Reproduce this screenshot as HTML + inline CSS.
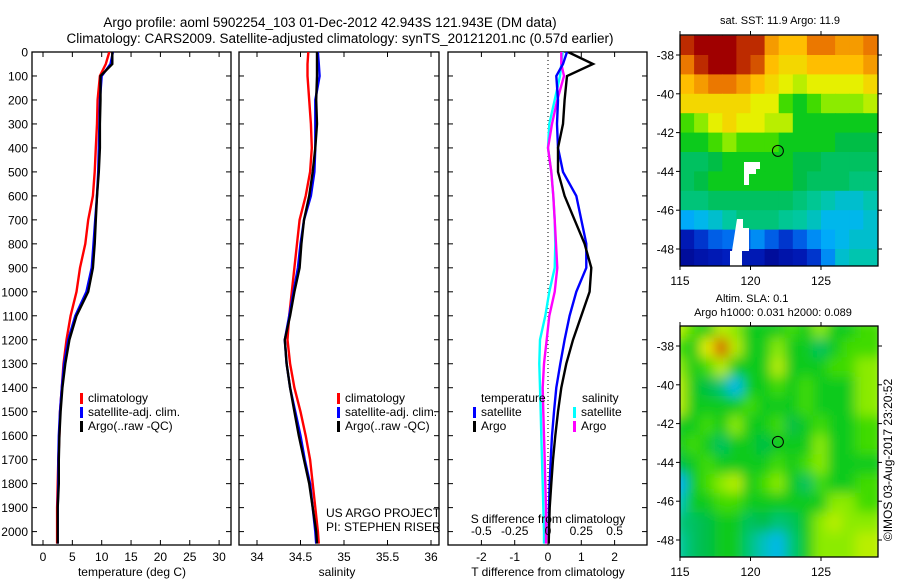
<!DOCTYPE html>
<html><head><meta charset="utf-8"><style>
body{margin:0;background:#fff;}
svg{display:block;font-family:"Liberation Sans",sans-serif;}
text{fill:#000;}
</style></head><body>
<svg id="s" width="900" height="580" xmlns="http://www.w3.org/2000/svg">
<defs>
<clipPath id="c1"><rect x="32" y="52" width="199" height="493"/></clipPath>
<clipPath id="c2"><rect x="239" y="52" width="200" height="493"/></clipPath>
<clipPath id="c3"><rect x="448" y="52" width="199" height="493"/></clipPath>
<clipPath id="cm1"><rect x="680" y="35" width="198" height="231"/></clipPath>
<clipPath id="cm2"><rect x="680" y="326" width="198" height="231"/></clipPath>
<filter id="bl" x="-5%" y="-5%" width="110%" height="110%"><feGaussianBlur stdDeviation="6"/></filter>
</defs>
<text x="330" y="27" font-size="13.5" text-anchor="middle">Argo profile: aoml 5902254_103 01-Dec-2012 42.943S 121.943E (DM data)</text>
<text x="340" y="43" font-size="13.5" text-anchor="middle">Climatology: CARS2009. Satellite-adjusted climatology: synTS_20121201.nc (0.57d earlier)</text>
<g id="g"></g>
</svg>
<script>
// ---- data ----
const depths=[0,50,100,200,300,400,500,600,700,800,900,1000,1100,1200,1300,1400,1500,1600,1700,1800,1900,2000,2050];
const tempArgo=[11.8,11.8,9.8,9.8,9.7,9.7,9.5,9.2,9.0,8.8,8.5,7.7,5.7,4.5,3.8,3.3,3.0,2.8,2.7,2.7,2.5,2.5,2.5];
const tempClim=[11.3,10.7,9.7,9.3,9.2,9.0,8.8,8.5,7.7,7.2,6.3,5.7,4.7,4.0,3.5,3.2,2.9,2.8,2.6,2.5,2.4,2.4,2.4];
const tempSat=[11.9,11.5,10.0,9.7,9.6,9.5,9.4,9.2,8.9,8.6,8.3,7.4,5.5,4.3,3.6,3.2,2.9,2.7,2.6,2.6,2.5,2.5,2.5];
const salArgo=[34.69,34.69,34.69,34.68,34.69,34.67,34.64,34.60,34.54,34.51,34.49,34.43,34.38,34.32,34.34,34.38,34.43,34.48,34.54,34.60,34.64,34.68,34.69];
const salClim=[34.59,34.58,34.58,34.60,34.62,34.63,34.61,34.56,34.49,34.46,34.43,34.40,34.37,34.35,34.38,34.43,34.50,34.56,34.61,34.64,34.67,34.70,34.71];
const salSat=[34.70,34.71,34.72,34.67,34.67,34.67,34.66,34.62,34.54,34.50,34.47,34.42,34.37,34.32,34.34,34.38,34.44,34.50,34.55,34.61,34.64,34.67,34.68];
const dTArgo=[0.6,1.35,0.57,0.5,0.45,0.3,0.3,0.5,0.8,1.1,1.3,1.25,1.0,0.75,0.55,0.4,0.3,0.22,0.15,0.1,0.05,0.03,0.02];
const dTSat=[0.57,0.45,0.25,0.3,0.27,0.3,0.45,0.85,1.0,1.15,1.15,0.85,0.65,0.5,0.37,0.25,0.18,0.12,0.08,0.05,0.03,0.02,0.02];
const dSArgo=[0.1,0.1,0.12,0.07,0.03,0.0,0.025,0.04,0.05,0.06,0.07,0.05,0.01,-0.01,-0.03,-0.04,-0.035,-0.03,-0.025,-0.02,-0.015,-0.015,-0.015];
const dSSat=[0.11,0.1,0.09,0.05,0.01,0.0,0.025,0.04,0.05,0.055,0.05,0.01,-0.02,-0.06,-0.065,-0.06,-0.055,-0.05,-0.045,-0.04,-0.035,-0.03,-0.03];
const depthTicks=[0,100,200,300,400,500,600,700,800,900,1000,1100,1200,1300,1400,1500,1600,1700,1800,1900,2000];
const tTicks=[0,5,10,15,20,25,30];
const sTicks=[34,34.5,35,35.5,36];
const dtTicks=[-2,-1,0,1,2];
const dsTicks=[-0.5,-0.25,0,0.25,0.5];
const dsTickLabels=["-0.5","-0.25","0","0.25","0.5"];
const lonTicks=[115,120,125];
const latTicks=[-38,-40,-42,-44,-46,-48];
const sstGrid=[
[0.95,1,1,1,0.95,0.95,0.8,0.75,0.75,0.85,0.85,0.8,0.8,0.85],
[0.85,0.95,1,1,0.95,0.9,0.75,0.7,0.7,0.75,0.75,0.75,0.75,0.8],
[0.75,0.8,0.85,0.85,0.8,0.75,0.7,0.65,0.6,0.65,0.65,0.65,0.65,0.7],
[0.7,0.7,0.7,0.7,0.7,0.65,0.65,0.5,0.45,0.5,0.55,0.55,0.55,0.6],
[0.5,0.55,0.65,0.7,0.65,0.65,0.6,0.6,0.45,0.45,0.45,0.45,0.45,0.45],
[0.45,0.45,0.5,0.55,0.5,0.5,0.5,0.45,0.45,0.45,0.45,0.42,0.42,0.42],
[0.4,0.4,0.42,0.45,0.45,0.45,0.45,0.45,0.42,0.42,0.4,0.4,0.4,0.4],
[0.4,0.42,0.45,0.45,0.45,0.45,0.45,0.45,0.42,0.4,0.4,0.4,0.38,0.38],
[0.38,0.38,0.4,0.4,0.4,0.4,0.4,0.4,0.38,0.36,0.34,0.32,0.32,0.34],
[0.28,0.3,0.32,0.35,0.38,0.38,0.38,0.36,0.35,0.33,0.3,0.3,0.3,0.32],
[0.1,0.15,0.2,0.22,0.2,0.25,0.2,0.15,0.2,0.25,0.28,0.3,0.32,0.32],
[0.05,0.08,0.1,0.12,0.1,0.1,0.05,0.08,0.1,0.15,0.25,0.32,0.34,0.34]];
const slaGrid=[
[0.6,0.5,0.45,0.6,0.55,0.45,0.45,0.45,0.5,0.45,0.55,0.45,0.45,0.5],
[0.5,0.45,0.65,0.9,0.6,0.45,0.45,0.55,0.45,0.45,0.4,0.45,0.5,0.5],
[0.55,0.45,0.5,0.6,0.45,0.45,0.45,0.6,0.45,0.45,0.45,0.5,0.5,0.55],
[0.6,0.45,0.42,0.38,0.3,0.45,0.45,0.5,0.45,0.5,0.45,0.45,0.45,0.55],
[0.6,0.45,0.45,0.45,0.45,0.5,0.45,0.45,0.45,0.5,0.45,0.45,0.45,0.55],
[0.45,0.45,0.5,0.45,0.55,0.45,0.45,0.5,0.42,0.45,0.5,0.45,0.45,0.5],
[0.45,0.5,0.45,0.4,0.45,0.45,0.42,0.45,0.45,0.45,0.55,0.45,0.45,0.5],
[0.42,0.45,0.5,0.45,0.45,0.45,0.45,0.5,0.45,0.5,0.55,0.45,0.45,0.45],
[0.28,0.45,0.5,0.55,0.6,0.45,0.5,0.55,0.45,0.4,0.5,0.45,0.45,0.5],
[0.33,0.45,0.45,0.5,0.5,0.45,0.45,0.45,0.45,0.45,0.45,0.55,0.55,0.5],
[0.38,0.4,0.42,0.45,0.45,0.4,0.42,0.38,0.4,0.45,0.55,0.6,0.55,0.55],
[0.35,0.4,0.42,0.45,0.45,0.38,0.33,0.3,0.38,0.45,0.55,0.55,0.55,0.6]];
const lonStart=115, latStart=-37;
const floatLon=121.943, floatLat=-42.943;

// ---- helpers ----
const NS="http://www.w3.org/2000/svg";const G=document.getElementById('g');
function mk(tag,at,parent){const e=document.createElementNS(NS,tag);for(const k in at)e.setAttribute(k,at[k]);(parent||G).appendChild(e);return e;}
function txt(x,y,s,size,anchor,name,parent){const e=mk('text',{x:x,y:y,'font-size':size||12,'text-anchor':anchor||'start'},parent);e.textContent=s;


return e;}
const yD=d=>52+d*0.2398;
const xT=t=>43+t*5.87;
const xS=s=>257+(s-34)*87;
const xDT=v=>548+v*33.3;
const xDS=v=>548+v*133.2;

function box(x,y,w,h,name){const r=mk('rect',{x:x,y:y,width:w,height:h,fill:'none',stroke:'#000','stroke-width':1.3});

}
function line(vals,xf,color,clip,name){const pts=vals.map((v,i)=>xf(v).toFixed(1)+','+yD(depths[i]).toFixed(1)).join(' ');
const p=mk('polyline',{points:pts,fill:'none',stroke:color,'stroke-width':2.4,'clip-path':'url(#'+clip+')'});

}
function depthTicksOn(x0,x1,labels){depthTicks.forEach(d=>{const y=yD(d);mk('line',{x1:x0,y1:y,x2:x0+5,y2:y,stroke:'#000'});mk('line',{x1:x1,y1:y,x2:x1-5,y2:y,stroke:'#000'});
if(labels)txt(28,y+4.5,String(d),12,'end','depth-tick-label');});}
function xTicks(vals,xf,labels,ylab){vals.forEach((v,i)=>{const x=xf(v);mk('line',{x1:x,y1:545,x2:x,y2:540,stroke:'#000'});mk('line',{x1:x,y1:52,x2:x,y2:57,stroke:'#000'});
if(labels)txt(x,ylab,labels[i],12,'middle','x-tick-label');});}

// panel 1
box(32,52,199,493,'temperature-panel');
depthTicksOn(32,231,true);
xTicks(tTicks,xT,tTicks.map(String),561);
line(tempClim,xT,'#f00','c1','temp-climatology-line');
line(tempSat,xT,'#00f','c1','temp-satellite-line');
line(tempArgo,xT,'#000','c1','temp-argo-line');
txt(132,576,'temperature (deg C)',12,'middle','x-axis-title-temperature');
function legend(x,y,items,prefix){items.forEach((it,i)=>{mk('rect',{x:x,y:y+i*14-9,width:3,height:11,fill:it[0]});txt(x+8,y+i*14,it[1],12,'start',prefix+'-legend-entry');});}
legend(80,402,[['#f00','climatology'],['#00f','satellite-adj. clim.'],['#000','Argo(..raw -QC)']],'temp');
// panel 2
box(239,52,200,493,'salinity-panel');
depthTicksOn(239,439,false);
xTicks(sTicks,xS,['34','34.5','35','35.5','36'],561);
line(salClim,xS,'#f00','c2','sal-climatology-line');
line(salSat,xS,'#00f','c2','sal-satellite-line');
line(salArgo,xS,'#000','c2','sal-argo-line');
txt(337,576,'salinity',12,'middle','x-axis-title-salinity');
legend(337,402,[['#f00','climatology'],['#00f','satellite-adj. clim.'],['#000','Argo(..raw -QC)']],'sal');
txt(326,517,'US ARGO PROJECT',12,'start','project-label');
txt(326,531,'PI: STEPHEN RISER',12,'start','pi-label');
// panel 3
box(448,52,199,493,'difference-panel');
depthTicksOn(448,647,false);
xTicks(dtTicks,xDT,dtTicks.map(String),561);
mk('line',{x1:548,y1:52,x2:548,y2:545,stroke:'#000','stroke-dasharray':'1,3','stroke-width':1});
line(dSSat,xDS,'#0ff','c3','sdiff-satellite-line');
line(dSArgo,xDS,'#f0f','c3','sdiff-argo-line');
line(dTSat,xDT,'#00f','c3','tdiff-satellite-line');
line(dTArgo,xDT,'#000','c3','tdiff-argo-line');
dsTicks.forEach((v,i)=>txt(xDS(v),535,dsTickLabels[i],12,'middle','s-diff-tick-label'));
txt(548,523,'S difference from climatology',12,'middle','s-diff-axis-title');
txt(548,576,'T difference from climatology',12,'middle','t-diff-axis-title');
txt(481,402,'temperature',12,'start','tdiff-legend-title');
txt(582,402,'salinity',12,'start','sdiff-legend-title');
legend(473,416,[['#00f','satellite'],['#000','Argo']],'tdiff');
legend(573,416,[['#0ff','satellite'],['#f0f','Argo']],'sdiff');

// maps
const stops=[[0,[0,0,130]],[0.12,[0,30,190]],[0.22,[0,110,240]],[0.29,[0,180,250]],[0.35,[0,200,160]],[0.42,[0,190,70]],[0.47,[20,210,0]],[0.55,[140,235,0]],[0.65,[230,240,0]],[0.75,[255,190,0]],[0.85,[235,120,0]],[0.93,[200,60,0]],[1,[160,0,0]]];
function cmap(v){for(let i=1;i<stops.length;i++){if(v<=stops[i][0]){const a=stops[i-1],b=stops[i];const t=(v-a[0])/(b[0]-a[0]);return 'rgb('+a[1].map((c,j)=>Math.round(c+(b[1][j]-c)*t)).join(',')+')';}}return 'rgb(160,0,0)';}
function drawMap(grid,x0,y0,pxLon,pxLat,clip,blur,name,latZeroY){
 const gg=mk('g',{'clip-path':'url(#'+clip+')'});
 const inner=mk('g',blur?{filter:'url(#bl)'}:{},gg);
 const xL=lon=>x0+(lon-115)*pxLon, yL=lat=>latZeroY+(-38-lat)*pxLat;
 grid.forEach((row,r)=>row.forEach((v,c)=>{const rc=mk('rect',{x:xL(lonStart+c)-(blur?8:0),y:yL(latStart-r)-(blur?8:0),width:pxLon+(blur?16:0.6),height:pxLat+(blur?16:0.6),fill:cmap(v)},inner);
 
 }));
 return {xL,yL,gg};}
function mapAxes(x0,y0,w,h,xL,yL,name){box(x0,y0,w,h,name);
 lonTicks.forEach(l=>{const x=xL(l);mk('line',{x1:x,y1:y0+h,x2:x,y2:y0+h+4,stroke:'#000'});mk('line',{x1:x,y1:y0,x2:x,y2:y0-4,stroke:'#000'});txt(x,y0+h+19,String(l),12,'middle','lon-tick-label');});
 latTicks.forEach(l=>{const y=yL(l);mk('line',{x1:x0,y1:y,x2:x0-4,y2:y,stroke:'#000'});mk('line',{x1:x0+w,y1:y,x2:x0+w+4,y2:y,stroke:'#000'});txt(x0-6,y+4.5,String(l),12,'end','lat-tick-label');});
 const c=mk('circle',{cx:xL(floatLon),cy:yL(floatLat),r:5.5,fill:'none',stroke:'#000','stroke-width':1});
 
 }
const m1=drawMap(sstGrid,680,35,14.1,19.4,'cm1',false,'sst-map',55);
// land/no-data gaps
mk('path',{d:'M744,162 h16 v7 h-4 v5 h-7 v11 h-5 z',fill:'#fff'},m1.gg);
mk('path',{d:'M737,219 h6 v9 h6 v23 h-7 v15 h-12 v-15 h2 z',fill:'#fff'},m1.gg);
mapAxes(680,35,198,231,m1.xL,m1.yL,'sst-map');
txt(780,24,'sat. SST: 11.9 Argo: 11.9',11,'middle','sst-map-title');
const m2=drawMap(slaGrid,680,326,14.1,19.4,'cm2',true,'sla-map',346);
mapAxes(680,326,198,231,m2.xL,m2.yL,'sla-map');
txt(752,302,'Altim. SLA: 0.1',11,'middle','sla-map-title');
txt(773,316,'Argo h1000: 0.031 h2000: 0.089',11,'middle','sla-map-subtitle');
const st=txt(0,0,'©IMOS 03-Aug-2017 23:20:52',12,'middle','timestamp');
st.setAttribute('transform','translate(892,460) rotate(-90)');
</script>
</body></html>
